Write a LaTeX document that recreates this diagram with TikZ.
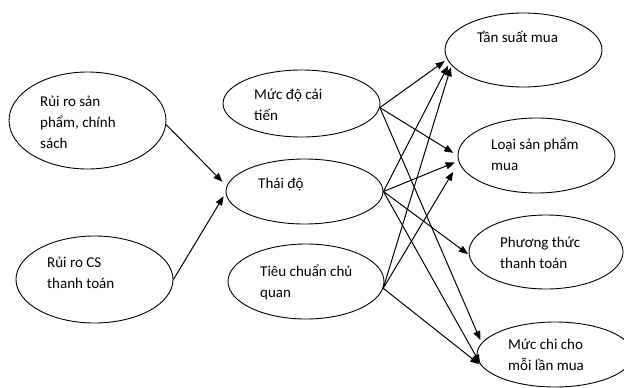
\documentclass[tikz,border=0pt]{standalone}
\usepackage{fontspec}
\setmainfont{Carlito}
\usetikzlibrary{shapes.geometric,arrows.meta}
\tikzset{
  oval/.style={draw=black, line width=0.9pt, ellipse, inner sep=0pt},
  lbl/.style={anchor=base west, align=left, inner sep=0pt, font=\fontsize{15}{21}\selectfont},
  conn/.style={draw=black, line width=1pt, -{Triangle[length=9pt,width=7pt]}}
}
\begin{document}
\begin{tikzpicture}[x=1pt,y=-1pt]
\useasboundingbox (0,0) rectangle (624,388);
\clip (0,0) rectangle (624,388);
% ellipses
\node[oval, minimum width=157pt, minimum height=97pt] (rr1) at (87.5,120.5) {};
\node[oval, minimum width=157pt, minimum height=87pt] (rr2) at (94.5,279.5) {};
\node[oval, minimum width=157pt, minimum height=67pt] (mucdo) at (301.5,103.5) {};
\node[oval, minimum width=157pt, minimum height=65pt] (thaido) at (304.5,191.5) {};
\node[oval, minimum width=156pt, minimum height=75pt] (tieuchuan) at (306,281.5) {};
\node[oval, minimum width=157pt, minimum height=74pt] (tansuat) at (523.5,50) {};
\node[oval, minimum width=157pt, minimum height=75pt] (loai) at (536.5,155.5) {};
\node[oval, minimum width=154pt, minimum height=74pt] (phuong) at (546,252) {};
\node[oval, minimum width=156pt, minimum height=65pt] (mucchi) at (555,354.5) {};
% labels (anchor = baseline of the last line)
\node[lbl] (trr1) at (40,148) {Rủi ro sản\\phẩm, chính\\sách};
\node[lbl] (trr2) at (47,288) {Rủi ro CS\\thanh toán};
\node[lbl] (tmucdo) at (254,120) {Mức độ cải\\tiến};
\node[lbl] (tthaido) at (258,188) {Thái độ};
\node[lbl] (ttieuchuan) at (260,297) {Tiêu chuẩn chủ\\quan};
\node[lbl] (ttansuat) at (477,42) {Tần suất mua};
\node[lbl] (tloai) at (491,170) {Loại sản phẩm\\mua};
\node[lbl] (tphuong) at (500,268) {Phương thức\\thanh toán};
\node[lbl] (tmucchi) at (508,370) {Mức chi cho\\mỗi lần mua};
% connectors
\draw[conn, shorten >=6pt] (rr1.-3) -- (thaido.176);
\draw[conn, shorten >=4pt] (rr2.east) -- (thaido.181);
\draw[conn, shorten >=3pt] (mucdo.-3) -- (tansuat.187);
\draw[conn, shorten >=5pt] (mucdo.-3) -- (loai.180);
\draw[conn, shorten >=3pt] (mucdo.-3) -- (mucchi.171);
\draw[conn, shorten >=3pt] (thaido.east) -- (tansuat.190);
\draw[conn, shorten >=4pt] (thaido.east) -- (loai.184);
\draw[conn, shorten >=1pt] (thaido.east) -- (phuong.182);
\draw[conn, shorten >=3pt] (thaido.east) -- (mucchi.189);
\draw[conn, shorten >=2pt] (tieuchuan.-5) -- (tansuat.192);
\draw[conn, shorten >=11pt] (tieuchuan.-5) -- (loai.185);
\draw[conn, shorten >=3pt] (tieuchuan.-5) -- (mucchi.189);
\end{tikzpicture}
\end{document}
